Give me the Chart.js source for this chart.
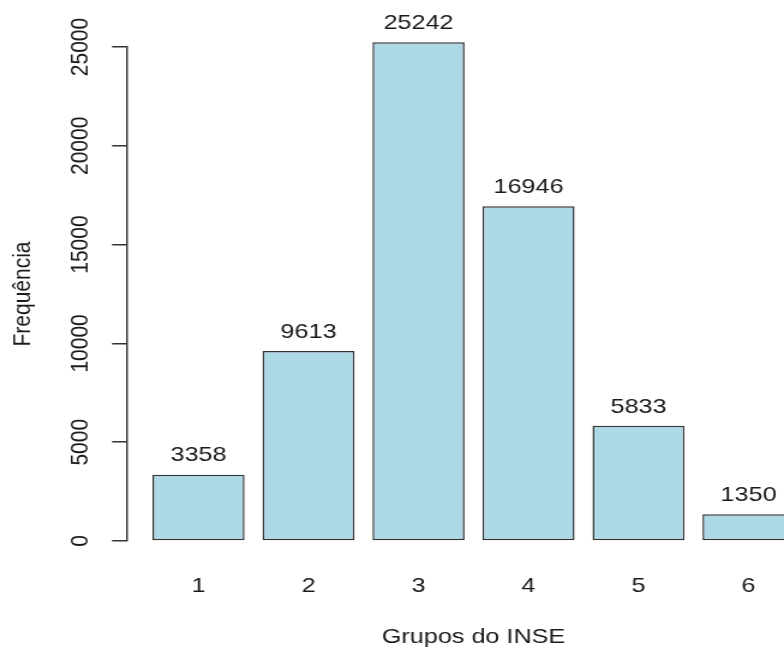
<!DOCTYPE html>
<html>
<head>
<meta charset="utf-8">
<script src="https://cdn.jsdelivr.net/npm/chart.js@4/dist/chart.umd.min.js"></script>
<style>
  html, body { margin: 0; padding: 0; background: #fff; overflow: hidden; width: 784px; height: 647px; }
  /* a area do grafico passa da borda direita, como no original */
  #wrap { width: 683px; height: 647px; transform: scaleX(1.2006); transform-origin: 0 0; }
</style>
</head>
<body>
<div id="wrap"><canvas id="grafico" width="683" height="647"></canvas></div>
<script>
// dados
const categories = ['1', '2', '3', '4', '5', '6'];
const frequencies = [3358, 9613, 25242, 16946, 5833, 1350];
const yTicks = [0, 5000, 10000, 15000, 20000, 25000];

const fonte = 'Liberation Sans, Arial, sans-serif';
const corTexto = '#1a1a1a';

// rotulos com o valor em cima de cada barra
const valoresPlugin = {
  id: 'valores',
  afterDatasetsDraw(chart) {
    const ctx = chart.ctx;
    const meta = chart.getDatasetMeta(0);
    ctx.save();
    ctx.font = '21px ' + fonte;
    ctx.fillStyle = corTexto;
    ctx.textAlign = 'center';
    ctx.textBaseline = 'middle';
    meta.data.forEach((bar, i) => {
      ctx.fillText(String(frequencies[i]), bar.x, bar.y - 19);
    });
    ctx.restore();
  }
};

const ctx = document.getElementById('grafico').getContext('2d');
const grafico = new Chart(ctx, {
  type: 'bar',
  data: {
    datasets: [{
      data: frequencies.map((v, i) => ({ x: Number(categories[i]), y: v })),
      backgroundColor: '#ADD8E6',
      borderColor: '#333',
      borderWidth: 1.5,
      borderSkipped: false,
      categoryPercentage: 1,
      barPercentage: 0.837,
      clip: false
    }]
  },
  options: {
    responsive: false,
    animation: false,
    devicePixelRatio: 1,
    layout: { padding: { top: 47, left: 0, right: 0, bottom: 0 } },
    plugins: { legend: { display: false }, tooltip: { enabled: false } },
    scales: {
      x: {
        type: 'linear',
        offset: false,
        min: 0.35,
        max: 6.65,
        grid: { display: false, drawTicks: false, offset: false },
        border: { display: false },
        ticks: {
          stepSize: 1,
          includeBounds: false,
          padding: 33,
          color: corTexto,
          font: { family: fonte, size: 21, lineHeight: 1.2 },
          callback: v => categories[v - 1]
        },
        title: {
          display: true,
          text: 'Grupos do INSE',
          color: corTexto,
          font: { family: fonte, size: 21, lineHeight: 1 },
          padding: { top: 0, bottom: -1 }
        },
        afterFit: scale => { scale.height = 106; }
      },
      y: {
        min: yTicks[0],
        max: yTicks[yTicks.length - 1],
        grid: { drawOnChartArea: false, drawTicks: true, tickLength: 12.5, color: '#333', lineWidth: 1.5 },
        border: { display: true, color: '#333', width: 1.5 },
        ticks: {
          stepSize: yTicks[1] - yTicks[0],
          minRotation: 90,
          maxRotation: 90,
          crossAlign: 'center',
          padding: -3.4,
          color: corTexto,
          font: { family: fonte, size: 21 },
          callback: v => String(v)
        },
        title: {
          display: true,
          text: 'Frequência',
          color: corTexto,
          font: { family: fonte, size: 21, lineHeight: 1 },
          padding: { top: 9, bottom: 0 }
        },
        afterFit: scale => { scale.width = 105.8; }
      }
    }
  },
  plugins: [valoresPlugin]
});
</script>
</body>
</html>
